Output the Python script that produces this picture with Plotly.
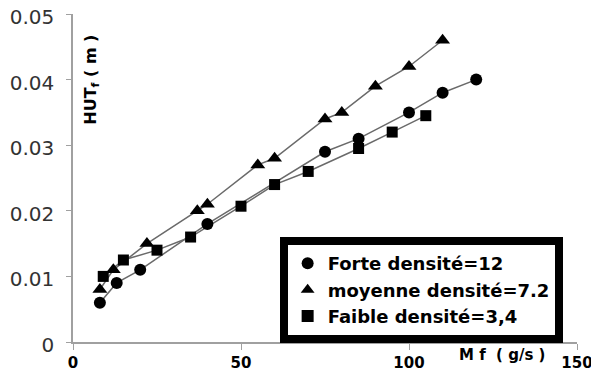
import plotly.graph_objects as go

forte_x = [8, 13, 20, 40, 75, 85, 100, 110, 120]
forte_y = [0.006, 0.009, 0.011, 0.018, 0.029, 0.031, 0.035, 0.038, 0.040]

moyenne_x = [8, 12, 22, 37, 40, 55, 60, 75, 80, 90, 100, 110]
moyenne_y = [0.008, 0.011, 0.015, 0.020, 0.021, 0.027, 0.028, 0.034, 0.035, 0.039, 0.042, 0.046]

faible_x = [9, 15, 25, 35, 50, 60, 70, 85, 95, 105]
faible_y = [0.010, 0.0125, 0.014, 0.016, 0.0207, 0.024, 0.026, 0.0295, 0.032, 0.0345]

names = ["Forte densité=12", "moyenne densité=7.2", "Faible densité=3,4"]
x_ticks = [0, 50, 100, 150]
y_ticks = [0, 0.01, 0.02, 0.03, 0.04, 0.05]
y_ticklabels = ["0", "0.01", "0.02", "0.03", "0.04", "0.05"]

series = [
    (forte_x, forte_y, names[0], "circle", 12),
    (moyenne_x, moyenne_y, names[1], "triangle-up", 13),
    (faible_x, faible_y, names[2], "square", 11),
]

fig = go.Figure()
for xs, ys, name, sym, size in series:
    fig.add_trace(go.Scatter(
        x=xs, y=ys, mode="lines", showlegend=False,
        line=dict(color="#6a6a6a", width=1.5), hoverinfo="skip"))
for xs, ys, name, sym, size in series:
    fig.add_trace(go.Scatter(
        x=xs, y=ys, mode="markers", name=name,
        marker=dict(symbol=sym, size=size, color="black")))

# page body has an 8px margin; compensate so the plot lands where the reference has it
fig.update_layout(
    width=591, height=366,
    margin=dict(l=65, r=22, t=6, b=32, autoexpand=False),
    plot_bgcolor="white", paper_bgcolor="white",
    font=dict(family="DejaVu Sans", color="black"),
    legend=dict(
        x=0.41, y=0.32, xanchor="left", yanchor="top",
        bgcolor="white", bordercolor="black", borderwidth=8,
        font=dict(family="DejaVu Sans", size=18, color="black", weight="bold"),
        itemsizing="constant", tracegroupgap=0, itemwidth=30,
    ),
    xaxis=dict(
        range=[0, 150], tickvals=x_ticks, ticktext=[str(v) for v in x_ticks],
        showline=True, linecolor="#a0a0a0", linewidth=1.5,
        ticks="outside", ticklen=6, tickcolor="#a0a0a0",
        showgrid=False, zeroline=False, automargin=False,
        tickfont=dict(family="DejaVu Sans", size=15, color="black", weight="bold"),
    ),
    yaxis=dict(
        range=[0, 0.05], tickvals=y_ticks, ticktext=y_ticklabels,
        showline=True, linecolor="#a0a0a0", linewidth=1.5,
        ticks="outside", ticklen=5, tickcolor="#a0a0a0",
        showgrid=False, zeroline=False, automargin=False,
        ticklabelstandoff=8, ticklabelshift=3, ticklabeloverflow="allow",
        tickfont=dict(family="DejaVu Sans", size=20, color="#333333"),
    ),
    annotations=[
        dict(text="<b>M f  ( g/s )</b>", x=0.851, y=-0.04, xref="paper", yref="paper",
             showarrow=False, font=dict(family="DejaVu Sans", size=15, color="black"),
             xanchor="center", yanchor="middle"),
        dict(text="<b>HUT<sub>f</sub> ( m )</b>", x=0.036, y=0.80, xref="paper", yref="paper",
             showarrow=False, textangle=-90,
             font=dict(family="DejaVu Sans", size=16, color="black"),
             xanchor="center", yanchor="middle"),
    ],
)

fig.write_html("out.html")
